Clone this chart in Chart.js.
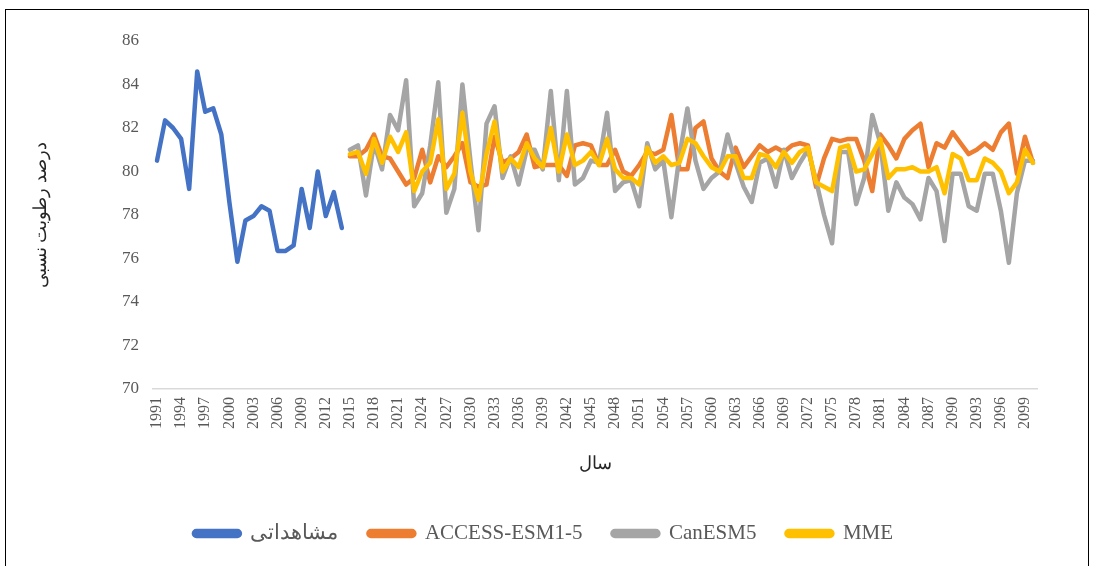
<!DOCTYPE html>
<html>
<head>
<meta charset="utf-8">
<script src="https://cdn.jsdelivr.net/npm/chart.js@4/dist/chart.umd.min.js"></script>
<style>
  html, body { margin: 0; padding: 0; background: #ffffff; }
  #wrap { position: absolute; left: 0; top: 0; width: 1094px; height: 566px; }
  #frame { position: absolute; left: 5px; top: 9px; width: 1084px; height: 600px; border: 1px solid #000; box-sizing: border-box; pointer-events: none; }
</style>
</head>
<body>
<div id="wrap"><canvas id="c"></canvas></div>
<div id="frame"></div>
<script>
// ---- data ----
const obsYears = [1991,1992,1993,1994,1995,1996,1997,1998,1999,2000,2001,2002,2003,2004,2005,2006,2007,2008,2009,2010,2011,2012,2013,2014];
const observed = [80.5,82.35,82.0,81.5,79.2,84.6,82.75,82.9,81.7,78.6,75.85,77.75,77.95,78.4,78.2,76.35,76.35,76.6,79.2,77.4,80.0,77.95,79.05,77.4];

const modelYears = [];
for (let y = 2015; y <= 2100; y++) modelYears.push(y);

const accessEsm = [
  80.7,80.7,81.0,81.7,80.7,80.6,80.0,79.4,79.7,81.0,
  79.5,80.7,80.2,80.7,81.3,79.5,79.3,79.4,81.6,80.4,
  80.6,80.9,81.7,80.2,80.3,80.3,80.3,79.8,81.2,81.3,
  81.2,80.3,80.3,81.0,80.0,79.8,80.3,80.9,80.8,81.0,
  82.6,80.1,80.1,82.0,82.3,80.6,80.0,79.7,81.1,80.2,
  80.7,81.2,80.9,81.1,80.9,81.2,81.3,81.2,79.3,80.6,
  81.5,81.4,81.5,81.5,80.5,79.1,81.7,81.2,80.6,81.5,
  81.9,82.2,80.2,81.3,81.1,81.8,81.3,80.8,81.0,81.3,
  81.0,81.8,82.2,79.9,81.6,80.4
];
const canEsm = [
  81.0,81.2,78.9,81.3,80.1,82.6,81.9,84.2,78.4,79.0,
  81.2,84.1,78.1,79.2,84.0,80.5,77.3,82.2,83.0,79.7,
  80.7,79.4,81.0,81.0,80.1,83.7,79.6,83.7,79.4,79.7,
  80.5,80.4,82.7,79.1,79.5,79.6,78.4,81.3,80.1,80.5,
  77.9,80.7,82.9,80.5,79.2,79.7,80.0,81.7,80.4,79.3,
  78.6,80.4,80.6,79.3,81.0,79.7,80.4,81.0,79.6,78.0,
  76.7,80.9,80.9,78.5,79.7,82.6,81.3,78.2,79.5,78.8,
  78.5,77.8,79.7,79.1,76.8,79.9,79.9,78.4,78.2,79.9,
  79.9,78.2,75.8,79.0,80.5,80.5
];
const mme = [
  80.8,80.9,79.9,81.5,80.4,81.6,80.9,81.8,79.1,80.0,
  80.4,82.4,79.2,79.9,82.7,80.0,78.7,80.8,82.3,80.0,
  80.6,80.2,81.3,80.6,80.2,82.0,80.0,81.7,80.3,80.5,
  80.9,80.3,81.5,80.1,79.7,79.7,79.4,81.1,80.4,80.7,
  80.3,80.4,81.5,81.3,80.7,80.2,80.0,80.7,80.7,79.7,
  79.7,80.8,80.7,80.2,80.9,80.4,80.9,81.1,79.5,79.3,
  79.1,81.1,81.2,80.0,80.1,80.8,81.5,79.7,80.1,80.1,
  80.2,80.0,80.0,80.2,79.0,80.8,80.6,79.6,79.6,80.6,
  80.4,80.0,79.0,79.5,81.0,80.4
];

const xTickLabels = ['1991','1994','1997','2000','2003','2006','2009','2012','2015','2018','2021','2024','2027','2030','2033','2036','2039','2042','2045','2048','2051','2054','2057','2060','2063','2066','2069','2072','2075','2078','2081','2084','2087','2090','2093','2096','2099'];
const yTicks = [70,72,74,76,78,80,82,84,86];

const seriesNames = ['مشاهداتی','ACCESS-ESM1-5','CanESM5','MME'];
const seriesColors = ['#4472C4','#ED7D31','#A5A5A5','#FFC000'];

// ---- build table ----
const categories = obsYears.concat(modelYears).map(String);
const padObs = observed.concat(modelYears.map(() => null));
const padModel = arr => obsYears.map(() => null).concat(arr);

const serif = "'Liberation Serif', 'DejaVu Serif', 'Times New Roman', serif";

const mk = (i, data, order) => ({
  label: seriesNames[i],
  data: data,
  borderColor: seriesColors[i],
  backgroundColor: seriesColors[i],
  borderWidth: 4.5,
  pointRadius: 0,
  pointHoverRadius: 0,
  tension: 0,
  spanGaps: false,
  borderCapStyle: 'round',
  borderJoinStyle: 'round',
  order: order
});

const shiftLegend = {
  id: 'shiftLegend',
  afterLayout(chart) {
    if (chart.legend) { chart.legend.left += 12; chart.legend.right += 12; }
  }
};

new Chart(document.getElementById('c'), {
  type: 'line',
  plugins: [shiftLegend],
  data: {
    labels: categories,
    datasets: [
      mk(0, padObs, 4),
      mk(1, padModel(accessEsm), 3),
      mk(2, padModel(canEsm), 2),
      mk(3, padModel(mme), 1)
    ]
  },
  options: {
    responsive: true,
    maintainAspectRatio: false,
    animation: false,
    events: [],
    layout: { padding: { left: 26, right: 57, top: 41, bottom: 12 } },
    plugins: {
      tooltip: { enabled: false },
      legend: {
        position: 'bottom',
        labels: {
          sort: (a, b) => a.datasetIndex - b.datasetIndex,
          boxWidth: 46,
          boxHeight: 5,
          useBorderRadius: true,
          borderRadius: 2.5,
          padding: 30,
          color: '#595959',
          font: { family: serif, size: 21 }
        }
      }
    },
    scales: {
      x: {
        type: 'category',
        offset: true,
        grid: { display: false, drawTicks: false },
        border: { display: true, color: '#D9D9D9', width: 1.5 },
        ticks: {
          autoSkip: false,
          maxRotation: 90,
          minRotation: 90,
          padding: 8,
          color: '#595959',
          font: { family: serif, size: 16 },
          callback: function (v, i) {
            const lab = this.getLabelForValue(v);
            return xTickLabels.includes(lab) ? lab : '';
          }
        },
        title: {
          display: true,
          text: 'سال',
          color: '#262626',
          font: { family: serif, size: 18 },
          padding: { top: 20, bottom: 18 }
        },
        afterFit: s => { s.height = 104; }
      },
      y: {
        min: 70,
        max: 86,
        afterBuildTicks: s => { s.ticks = yTicks.map(v => ({ value: v })); },
        grid: { display: false, drawTicks: false },
        border: { display: false },
        ticks: {
          padding: 14,
          color: '#595959',
          font: { family: serif, size: 17 }
        },
        title: {
          display: true,
          text: 'درصد رطوبت نسبی',
          color: '#262626',
          font: { family: serif, size: 18 },
          padding: { top: 4, bottom: 4 }
        },
        afterFit: s => { s.width = 127; }
      }
    }
  }
});
</script>
</body>
</html>
